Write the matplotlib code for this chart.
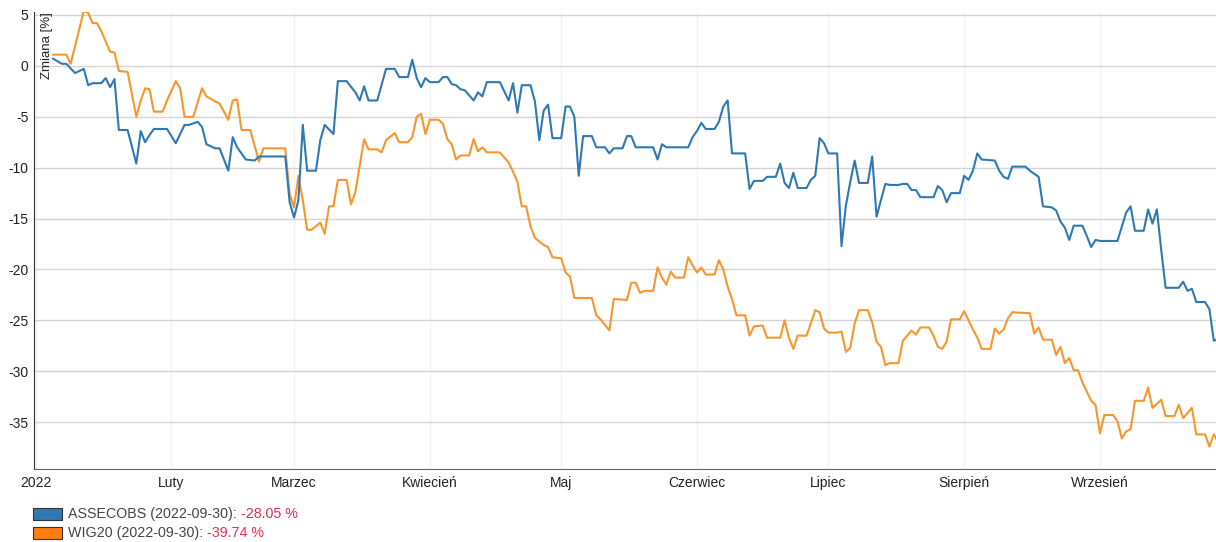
import matplotlib
matplotlib.use("Agg")
import matplotlib.pyplot as plt
import matplotlib.dates as mdates
from matplotlib.patches import Rectangle
import pandas as pd
import datetime

plt.rcParams['font.family'] = ['Liberation Sans', 'DejaVu Sans']
plt.rcParams['axes.unicode_minus'] = False

# ASSECOBS - zmiana od poczatku roku [%]
asseco_dates = ["2022-01-05", "2022-01-07", "2022-01-08", "2022-01-10", "2022-01-12", "2022-01-13", "2022-01-14", "2022-01-16",
    "2022-01-17", "2022-01-18", "2022-01-19", "2022-01-20", "2022-01-22", "2022-01-24", "2022-01-25", "2022-01-26",
    "2022-01-27", "2022-01-28", "2022-01-31", "2022-02-02", "2022-02-04", "2022-02-05", "2022-02-07", "2022-02-08",
    "2022-02-09", "2022-02-11", "2022-02-12", "2022-02-14", "2022-02-15", "2022-02-16", "2022-02-18", "2022-02-20",
    "2022-02-21", "2022-02-27", "2022-02-28", "2022-03-01", "2022-03-02", "2022-03-03", "2022-03-04", "2022-03-06",
    "2022-03-07", "2022-03-08", "2022-03-10", "2022-03-11", "2022-03-13", "2022-03-15", "2022-03-16", "2022-03-17",
    "2022-03-18", "2022-03-20", "2022-03-22", "2022-03-24", "2022-03-25", "2022-03-27", "2022-03-28", "2022-03-29",
    "2022-03-30", "2022-03-31", "2022-04-01", "2022-04-03", "2022-04-04", "2022-04-05", "2022-04-06", "2022-04-07",
    "2022-04-08", "2022-04-09", "2022-04-11", "2022-04-12", "2022-04-13", "2022-04-14", "2022-04-17", "2022-04-19",
    "2022-04-20", "2022-04-21", "2022-04-22", "2022-04-24", "2022-04-25", "2022-04-26", "2022-04-27", "2022-04-28",
    "2022-04-29", "2022-05-01", "2022-05-02", "2022-05-03", "2022-05-04", "2022-05-05", "2022-05-06", "2022-05-08",
    "2022-05-09", "2022-05-11", "2022-05-12", "2022-05-13", "2022-05-15", "2022-05-16", "2022-05-17", "2022-05-18",
    "2022-05-22", "2022-05-23", "2022-05-24", "2022-05-25", "2022-05-30", "2022-05-31", "2022-06-01", "2022-06-02",
    "2022-06-03", "2022-06-05", "2022-06-06", "2022-06-07", "2022-06-08", "2022-06-09", "2022-06-12", "2022-06-13",
    "2022-06-14", "2022-06-16", "2022-06-17", "2022-06-19", "2022-06-20", "2022-06-21", "2022-06-22", "2022-06-23",
    "2022-06-24", "2022-06-26", "2022-06-27", "2022-06-28", "2022-06-29", "2022-06-30", "2022-07-01", "2022-07-03",
    "2022-07-04", "2022-07-05", "2022-07-06", "2022-07-07", "2022-07-08", "2022-07-10", "2022-07-11", "2022-07-12",
    "2022-07-13", "2022-07-14", "2022-07-15", "2022-07-17", "2022-07-18", "2022-07-19", "2022-07-20", "2022-07-21",
    "2022-07-22", "2022-07-25", "2022-07-26", "2022-07-27", "2022-07-28", "2022-07-29", "2022-07-31", "2022-08-01",
    "2022-08-02", "2022-08-03", "2022-08-04", "2022-08-05", "2022-08-08", "2022-08-09", "2022-08-10", "2022-08-11",
    "2022-08-12", "2022-08-15", "2022-08-16", "2022-08-18", "2022-08-19", "2022-08-21", "2022-08-22", "2022-08-23",
    "2022-08-24", "2022-08-25", "2022-08-26", "2022-08-28", "2022-08-29", "2022-08-30", "2022-08-31", "2022-09-01",
    "2022-09-05", "2022-09-06", "2022-09-07", "2022-09-08", "2022-09-09", "2022-09-11", "2022-09-12", "2022-09-13",
    "2022-09-14", "2022-09-15", "2022-09-16", "2022-09-19", "2022-09-20", "2022-09-21", "2022-09-22", "2022-09-23",
    "2022-09-25", "2022-09-26", "2022-09-27", "2022-09-28", "2022-09-30"]
asseco = [0.7, 0.2, 0.2, -0.7, -0.3, -1.9, -1.7, -1.7,
    -1.2, -2.1, -1.3, -6.3, -6.3, -9.6, -6.4, -7.5,
    -6.8, -6.2, -6.2, -7.6, -5.8, -5.8, -5.5, -6.0,
    -7.7, -8.1, -8.1, -10.3, -7.0, -8.0, -9.2, -9.3,
    -8.9, -8.9, -13.4, -14.9, -13.2, -5.8, -10.3, -10.3,
    -7.3, -5.8, -6.7, -1.5, -1.5, -2.6, -3.4, -2.0,
    -3.4, -3.4, -0.3, -0.3, -1.1, -1.1, 0.6, -1.2,
    -2.1, -1.2, -1.6, -1.6, -1.1, -1.1, -1.8, -1.9,
    -2.3, -2.4, -3.4, -2.6, -3.0, -1.6, -1.6, -3.4,
    -1.7, -4.6, -1.9, -1.9, -3.5, -7.3, -4.4, -3.8,
    -7.1, -7.1, -4.0, -4.0, -5.0, -10.8, -6.9, -6.9,
    -8.0, -8.0, -8.6, -8.1, -8.1, -6.9, -6.9, -8.0,
    -8.0, -9.2, -7.7, -8.0, -8.0, -7.0, -6.4, -5.6,
    -6.2, -6.2, -5.5, -4.0, -3.4, -8.6, -8.6, -12.1,
    -11.3, -11.3, -10.9, -10.9, -9.6, -11.5, -12.0, -10.5,
    -12.0, -12.0, -11.2, -10.8, -7.1, -7.6, -8.6, -8.6,
    -17.7, -13.7, -11.4, -9.3, -11.5, -11.5, -8.9, -14.8,
    -13.2, -11.6, -11.7, -11.7, -11.6, -11.6, -12.2, -12.2,
    -12.9, -12.9, -11.8, -12.2, -13.4, -12.5, -12.5, -10.8,
    -11.2, -10.3, -8.6, -9.2, -9.3, -10.3, -10.9, -11.1,
    -9.9, -9.9, -10.3, -10.9, -13.8, -13.9, -14.2, -15.3,
    -15.9, -17.1, -15.7, -15.7, -16.7, -17.8, -17.1, -17.2,
    -17.2, -15.8, -14.4, -13.8, -16.2, -16.2, -14.1, -15.5,
    -14.1, -18.1, -21.8, -21.8, -21.2, -22.1, -21.9, -23.2,
    -23.2, -23.9, -27.0, -26.8, -28.05]

# WIG20 - zmiana od poczatku roku [%]
wig20_dates = ["2022-01-05", "2022-01-08", "2022-01-09", "2022-01-12", "2022-01-13", "2022-01-14", "2022-01-15", "2022-01-16",
    "2022-01-18", "2022-01-19", "2022-01-20", "2022-01-22", "2022-01-24", "2022-01-25", "2022-01-26", "2022-01-27",
    "2022-01-28", "2022-01-30", "2022-01-31", "2022-02-02", "2022-02-03", "2022-02-04", "2022-02-06", "2022-02-08",
    "2022-02-09", "2022-02-11", "2022-02-12", "2022-02-14", "2022-02-15", "2022-02-16", "2022-02-17", "2022-02-19",
    "2022-02-21", "2022-02-22", "2022-02-27", "2022-02-28", "2022-03-01", "2022-03-02", "2022-03-03", "2022-03-04",
    "2022-03-05", "2022-03-07", "2022-03-08", "2022-03-09", "2022-03-10", "2022-03-11", "2022-03-13", "2022-03-14",
    "2022-03-15", "2022-03-17", "2022-03-18", "2022-03-20", "2022-03-21", "2022-03-22", "2022-03-24", "2022-03-25",
    "2022-03-27", "2022-03-28", "2022-03-29", "2022-03-30", "2022-03-31", "2022-04-01", "2022-04-03", "2022-04-04",
    "2022-04-05", "2022-04-06", "2022-04-07", "2022-04-08", "2022-04-10", "2022-04-11", "2022-04-12", "2022-04-13",
    "2022-04-14", "2022-04-17", "2022-04-19", "2022-04-20", "2022-04-21", "2022-04-22", "2022-04-23", "2022-04-24",
    "2022-04-25", "2022-04-27", "2022-04-28", "2022-04-29", "2022-05-01", "2022-05-02", "2022-05-03", "2022-05-04",
    "2022-05-08", "2022-05-09", "2022-05-10", "2022-05-12", "2022-05-13", "2022-05-16", "2022-05-17", "2022-05-18",
    "2022-05-19", "2022-05-20", "2022-05-22", "2022-05-23", "2022-05-24", "2022-05-25", "2022-05-26", "2022-05-27",
    "2022-05-29", "2022-05-30", "2022-05-31", "2022-06-01", "2022-06-02", "2022-06-03", "2022-06-05", "2022-06-06",
    "2022-06-07", "2022-06-08", "2022-06-09", "2022-06-10", "2022-06-12", "2022-06-13", "2022-06-14", "2022-06-16",
    "2022-06-17", "2022-06-20", "2022-06-21", "2022-06-22", "2022-06-23", "2022-06-24", "2022-06-26", "2022-06-27",
    "2022-06-28", "2022-06-29", "2022-06-30", "2022-07-01", "2022-07-03", "2022-07-04", "2022-07-05", "2022-07-06",
    "2022-07-07", "2022-07-08", "2022-07-10", "2022-07-11", "2022-07-12", "2022-07-13", "2022-07-14", "2022-07-15",
    "2022-07-17", "2022-07-18", "2022-07-19", "2022-07-20", "2022-07-21", "2022-07-22", "2022-07-24", "2022-07-25",
    "2022-07-26", "2022-07-27", "2022-07-28", "2022-07-29", "2022-07-31", "2022-08-01", "2022-08-02", "2022-08-03",
    "2022-08-04", "2022-08-05", "2022-08-07", "2022-08-08", "2022-08-09", "2022-08-10", "2022-08-11", "2022-08-12",
    "2022-08-16", "2022-08-17", "2022-08-18", "2022-08-19", "2022-08-21", "2022-08-22", "2022-08-23", "2022-08-24",
    "2022-08-25", "2022-08-26", "2022-08-27", "2022-08-28", "2022-08-30", "2022-08-31", "2022-09-01", "2022-09-02",
    "2022-09-04", "2022-09-05", "2022-09-06", "2022-09-07", "2022-09-08", "2022-09-09", "2022-09-11", "2022-09-12",
    "2022-09-13", "2022-09-15", "2022-09-16", "2022-09-18", "2022-09-19", "2022-09-20", "2022-09-22", "2022-09-23",
    "2022-09-25", "2022-09-26", "2022-09-27", "2022-09-28", "2022-09-30"]
wig20 = [1.1, 1.1, 0.2, 5.4, 5.2, 4.2, 4.2, 3.4,
    1.4, 1.3, -0.5, -0.6, -5.0, -3.4, -2.2, -2.3,
    -4.5, -4.5, -3.4, -1.5, -2.2, -5.0, -5.0, -2.2,
    -3.0, -3.5, -3.7, -5.3, -3.4, -3.3, -6.3, -6.3,
    -9.4, -8.1, -8.1, -12.6, -13.9, -10.8, -13.2, -16.1,
    -16.1, -15.4, -16.5, -13.8, -13.8, -11.2, -11.2, -13.6,
    -12.4, -7.2, -8.2, -8.2, -8.5, -7.3, -6.6, -7.5,
    -7.5, -7.0, -5.0, -4.7, -6.7, -5.3, -5.3, -5.7,
    -7.2, -7.7, -9.2, -8.8, -8.8, -7.2, -8.4, -8.0,
    -8.5, -8.5, -9.5, -10.4, -11.4, -13.8, -13.8, -15.8,
    -16.9, -17.6, -17.8, -18.8, -18.9, -20.3, -20.7, -22.8,
    -22.8, -24.5, -24.9, -26.0, -22.9, -23.0, -21.3, -21.3,
    -22.3, -22.1, -22.1, -19.8, -20.8, -21.5, -20.2, -20.8,
    -20.8, -18.8, -19.6, -20.3, -19.8, -20.5, -20.5, -19.1,
    -20.0, -21.7, -22.9, -24.5, -24.5, -26.5, -25.6, -25.5,
    -26.7, -26.7, -25.0, -26.7, -27.8, -26.5, -26.5, -25.3,
    -24.0, -24.2, -25.8, -26.2, -26.2, -26.1, -28.1, -27.7,
    -25.3, -24.0, -24.0, -25.2, -27.1, -27.6, -29.4, -29.2,
    -29.2, -27.0, -26.5, -26.0, -26.4, -25.7, -25.7, -26.5,
    -27.6, -27.8, -27.1, -24.9, -24.9, -24.1, -25.0, -25.9,
    -26.7, -27.8, -27.8, -25.8, -26.3, -25.9, -24.8, -24.2,
    -24.3, -26.3, -25.7, -26.9, -26.9, -28.4, -27.6, -29.2,
    -28.7, -29.9, -29.9, -31.1, -32.9, -33.3, -36.1, -34.3,
    -34.3, -34.9, -36.6, -35.9, -35.7, -32.9, -32.9, -31.6,
    -33.6, -32.8, -34.4, -34.4, -33.3, -34.6, -33.6, -36.2,
    -36.2, -37.4, -36.2, -37.0, -39.74]

month_labels = ["2022", "Luty", "Marzec", "Kwiecień", "Maj", "Czerwiec", "Lipiec", "Sierpień", "Wrzesień"]
month_starts = ["2022-01-01", "2022-02-01", "2022-03-01", "2022-04-01", "2022-05-01",
    "2022-06-01", "2022-07-01", "2022-08-01", "2022-09-01"]
legend_names = ["ASSECOBS (2022-09-30):", "WIG20 (2022-09-30):"]
legend_values = ["-28.05 %", "-39.74 %"]

blue = "#2e78b4"
orange = "#f7962c"

fig = plt.figure(figsize=(12.16, 5.42), dpi=100)
ax = fig.add_axes([34/1216, 1-469/542, 1-34/1216, (469-11.7)/542])

ax.plot(pd.to_datetime(wig20_dates), wig20, color=orange, lw=1.5, zorder=3)
ax.plot(pd.to_datetime(asseco_dates), asseco, color=blue, lw=1.5, zorder=4)

# os x: dni kalendarzowe, obraz uciety po prawej
start = mdates.date2num(datetime.datetime(2022, 1, 1))
ax.set_xlim(start - 0.37, start + 269.5)
ax.set_ylim(-39.6, 5.32)

ticks = mdates.date2num(pd.to_datetime(month_starts))
ax.set_xticks(ticks)
ax.set_xticklabels(month_labels)
ax.set_yticks(range(-35, 6, 5))
ax.tick_params(axis='both', length=0, labelsize=10, colors="#222222")
ax.tick_params(axis='x', pad=5)
ax.tick_params(axis='y', pad=4)

ax.grid(axis='y', color="#d4d4d4", lw=1)
ax.grid(axis='x', color="#f3f3f3", lw=1)
ax.set_axisbelow(True)

ax.spines['top'].set_visible(False)
ax.spines['right'].set_visible(False)
ax.spines['left'].set_color("#333333")
ax.spines['bottom'].set_color("#666666")

fig.text(47/1216, 1-46/542, "Zmiana [%]", rotation=90, ha='center', va='center',
         fontsize=9.5, color="#222222")

# legenda pod wykresem
rows = [514, 533]
for i in range(2):
    yc = 1 - rows[i]/542
    fig.patches.append(Rectangle((33/1216, yc - 6/542), 29/1216, 12/542, transform=fig.transFigure,
                                 facecolor=[blue, "#ff7f0e"][i], edgecolor="#333333", lw=0.8))
    t = fig.text(68/1216, yc, legend_names[i], ha='left', va='center', fontsize=10.3, color="#444444")
    ax.annotate(" " + legend_values[i], xy=(1, 0.5), xycoords=t, ha='left', va='center',
                fontsize=10.3, color="#e0304e", annotation_clip=False)

fig.savefig("out.png", dpi=100)
